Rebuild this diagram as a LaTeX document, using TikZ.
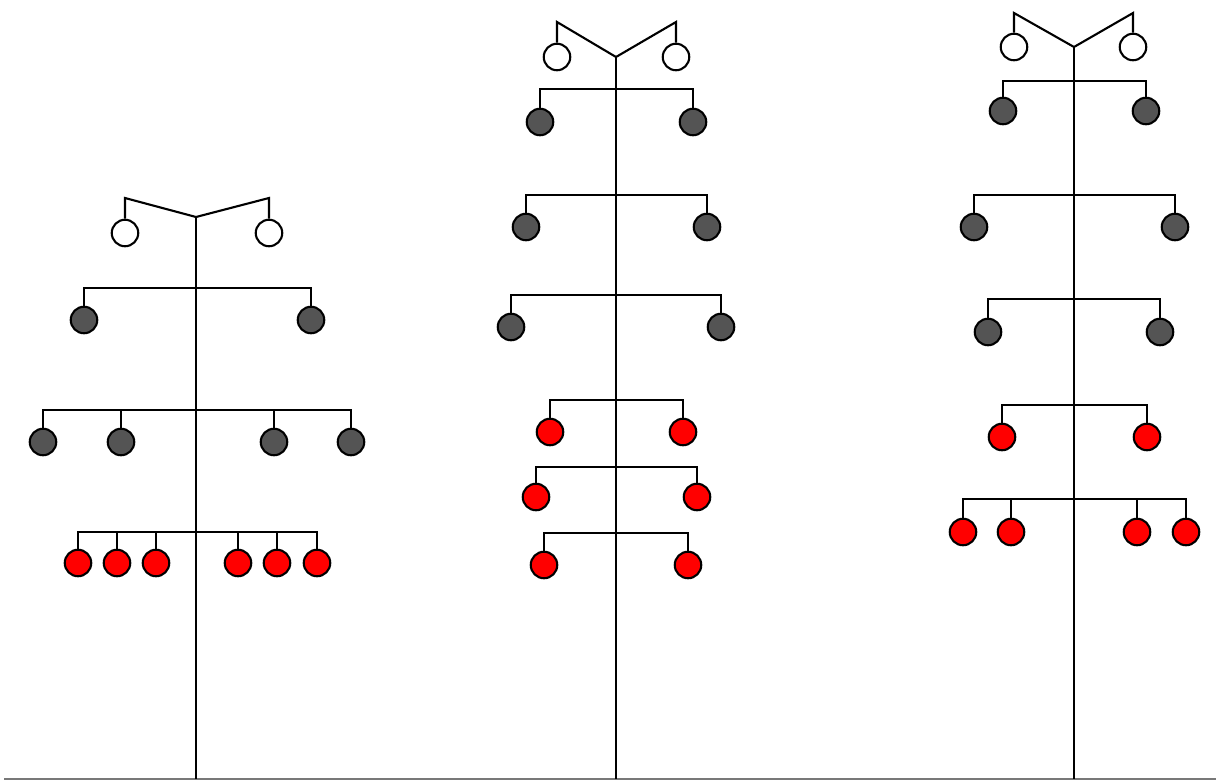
\documentclass[tikz,border=0pt]{standalone}
\definecolor{dk}{RGB}{84,84,84}
\definecolor{rd}{RGB}{255,0,0}
\definecolor{gnd}{RGB}{120,120,120}
\tikzset{
  ins/.style={circle,draw=black,line width=2.1pt,minimum size=26.5pt,inner sep=0pt},
  wire/.style={line width=2.1pt,line join=miter},
}
\begin{document}
\begin{tikzpicture}[x=1pt,y=-1pt]
\useasboundingbox[fill=white] (0,0) rectangle (1216,781);
% ground
\coordinate (gA) at (4,779);
\coordinate (gB) at (1216,779);
\draw[gnd,line width=1.6pt] (gA) -- (gB);
% pole tops and feet
\foreach \p/\xc/\yt/\xl/\xr/\yv/\yw in {1/196/217/125/269/198/233, 2/616/57/557/676/22/57, 3/1074/47/1014/1133/13/47}{
  \coordinate (T\p) at (\xc,\yt);
  \coordinate (F\p) at (\xc,779);
  \coordinate (VL\p) at (\xl,\yv);
  \coordinate (VR\p) at (\xr,\yv);
  \node[ins,fill=white] (w\p-l) at (\xl,\yw) {};
  \node[ins,fill=white] (w\p-r) at (\xr,\yw) {};
  \draw[wire] (w\p-l.north) -- (VL\p) -- (T\p) -- (VR\p) -- (w\p-r.north);
  \draw[wire] (T\p) -- (F\p);
}
% two-insulator arms
\foreach \p/\k/\xc/\xl/\xr/\yb/\yc/\col in {
  1/1/196/84/311/288/320/dk,
  2/1/616/540/693/89/122/dk,
  2/2/616/526/707/195/227/dk,
  2/3/616/511/721/295/327/dk,
  2/4/616/550/683/400/432/rd,
  2/5/616/536/697/467/497/rd,
  2/6/616/544/688/533/565/rd,
  3/1/1074/1003/1146/81/111/dk,
  3/2/1074/974/1175/195/227/dk,
  3/3/1074/988/1160/299/332/dk,
  3/4/1074/1002/1147/405/437/rd}{
  \coordinate (b\p\k) at (\xc,\yb);
  \node[ins,fill=\col] (n\p\k-l) at (\xl,\yc) {};
  \node[ins,fill=\col] (n\p\k-r) at (\xr,\yc) {};
  \draw[wire] (n\p\k-l.north) |- (b\p\k) -| (n\p\k-r.north);
}
% pylon 1, four dark insulators
\coordinate (b12) at (196,410);
\foreach \i/\x in {1/43,2/121,3/274,4/351}{
  \node[ins,fill=dk] (n12-\i) at (\x,442) {};
}
\draw[wire] (n12-1.north) |- (b12) -| (n12-4.north);
\foreach \i in {2,3}{ \draw[wire] (n12-\i.north) -- (n12-\i.north |- b12); }
% pylon 1, six red insulators
\coordinate (b13) at (196,532);
\foreach \i/\x in {1/78,2/117,3/156,4/238,5/277,6/317}{
  \node[ins,fill=rd] (n13-\i) at (\x,563) {};
}
\draw[wire] (n13-1.north) |- (b13) -| (n13-6.north);
\foreach \i in {2,3,4,5}{ \draw[wire] (n13-\i.north) -- (n13-\i.north |- b13); }
% pylon 3, four red insulators
\coordinate (b35) at (1074,499);
\foreach \i/\x in {1/963,2/1011,3/1137,4/1186}{
  \node[ins,fill=rd] (n35-\i) at (\x,532) {};
}
\draw[wire] (n35-1.north) |- (b35) -| (n35-4.north);
\foreach \i in {2,3}{ \draw[wire] (n35-\i.north) -- (n35-\i.north |- b35); }
\end{tikzpicture}
\end{document}
